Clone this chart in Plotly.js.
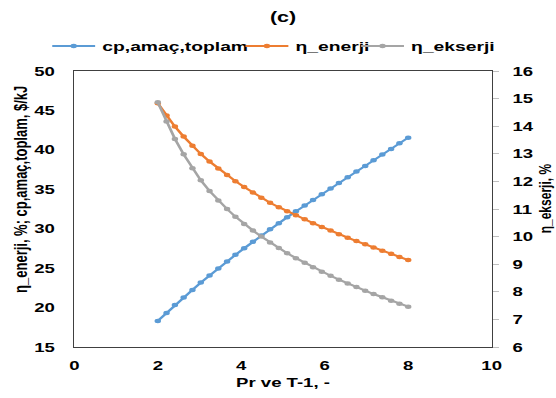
<!DOCTYPE html>
<html>
<head>
<meta charset="utf-8">
<script src="https://cdn.plot.ly/plotly-3.0.1.min.js"></script>
<style>
  html, body { margin: 0; padding: 0; background: #fff; overflow: hidden; }
  #wrap { width: 556px; height: 398px; overflow: hidden; }
  #chart { width: 389px; height: 398px; transform: scaleX(1.4293); transform-origin: 0 0; }
</style>
</head>
<body>
<div id="wrap"><div id="chart"></div></div>
<script>
// Pr ve T-1 (x values)
const xVals = [2.00, 2.21, 2.41, 2.62, 2.83, 3.03, 3.24, 3.45, 3.66, 3.86,
               4.07, 4.28, 4.48, 4.69, 4.90, 5.10, 5.31, 5.52, 5.72, 5.93,
               6.14, 6.34, 6.55, 6.76, 6.97, 7.17, 7.38, 7.59, 7.79, 8.00];
// cp,amaç,toplam ($/kJ) - left axis
const cpAmacToplam = [18.30, 19.32, 20.32, 21.29, 22.24, 23.17, 24.08, 24.97, 25.84, 26.69,
                      27.52, 28.34, 29.14, 29.93, 30.70, 31.46, 32.20, 32.93, 33.65, 34.37,
                      35.09, 35.81, 36.52, 37.24, 37.96, 38.68, 39.40, 40.11, 40.83, 41.55];
// η_enerji (%) - left axis
const etaEnerji = [45.90, 44.35, 42.95, 41.68, 40.53, 39.48, 38.52, 37.64, 36.82, 36.03,
                   35.28, 34.58, 33.92, 33.30, 32.73, 32.20, 31.70, 31.20, 30.70, 30.22,
                   29.76, 29.31, 28.87, 28.44, 28.02, 27.61, 27.21, 26.81, 26.42, 26.03];
// η_ekserji (%) - right axis
const etaEkserji = [14.87, 14.17, 13.54, 12.98, 12.48, 12.04, 11.65, 11.31, 11.00, 10.72,
                    10.46, 10.22, 10.00, 9.79, 9.59, 9.40, 9.22, 9.05, 8.89, 8.73,
                    8.58, 8.44, 8.30, 8.17, 8.04, 7.92, 7.80, 7.68, 7.57, 7.46];

const seriesNames = ['cp,amaç,toplam', 'η_enerji', 'η_ekserji'];
const xTicks = [0, 2, 4, 6, 8, 10];
const yLeftTicks = [15, 20, 25, 30, 35, 40, 45, 50];
const yRightTicks = [6, 7, 8, 9, 10, 11, 12, 13, 14, 15, 16];

const FONT = 'Liberation Sans, Arial, sans-serif';
const boldFont = (size) => ({family: FONT, size: size, color: '#000', weight: 'bold'});

const mk = (name, y, color, yaxis, legend) => ({
  x: xVals, y: y, name: name, type: 'scatter', mode: 'lines+markers',
  yaxis: yaxis, legend: legend,
  line: {color: color, width: 2},
  marker: {color: color, size: 4.5, symbol: 'circle'}
});

const data = [
  mk(seriesNames[0], cpAmacToplam, '#5B9BD5', 'y', 'legend'),
  mk(seriesNames[1], etaEnerji, '#ED7D31', 'y', 'legend2'),
  mk(seriesNames[2], etaEkserji, '#A5A5A5', 'y2', 'legend3')
];

const legendBase = {
  orientation: 'h', yanchor: 'middle', y: 1.09, xanchor: 'left',
  font: boldFont(13.5), bgcolor: 'rgba(0,0,0,0)', itemwidth: 30,
  tracegroupgap: 0
};

const layout = {
  width: 389, height: 398,
  margin: {l: 52, r: 45, t: 71, b: 51},
  paper_bgcolor: '#fff', plot_bgcolor: '#fff',
  font: boldFont(13),
  title: {text: '(c)', font: boldFont(15), x: 0.5, xref: 'paper', xanchor: 'center', y: 1 - 17/398, yref: 'container', yanchor: 'middle'},
  showlegend: true,
  legend: Object.assign({}, legendBase, {x: -0.07}),
  legend2: Object.assign({}, legendBase, {x: 0.393}),
  legend3: Object.assign({}, legendBase, {x: 0.670}),
  xaxis: {
    range: [0, 10], tickvals: xTicks, ticktext: xTicks.map(String),
    showgrid: false, zeroline: false,
    showline: true, mirror: true, linecolor: '#404040', linewidth: 1,
    ticks: '', ticklabelstandoff: 6,
    tickfont: boldFont(13),
    title: {text: 'Pr ve T-1, -', font: boldFont(13), standoff: 6}
  },
  yaxis: {
    range: [15, 50], tickvals: yLeftTicks, ticktext: yLeftTicks.map(String),
    showgrid: false, zeroline: false,
    showline: true, mirror: true, linecolor: '#404040', linewidth: 1,
    ticks: '', ticklabelstandoff: 10,
    tickfont: boldFont(13)
  },
  yaxis2: {
    range: [6, 16], tickvals: yRightTicks, ticktext: yRightTicks.map(String),
    overlaying: 'y', side: 'right',
    showgrid: false, zeroline: false, showline: false,
    ticks: 'outside', ticklen: 4, tickcolor: '#BFBFBF', tickwidth: 1,
    ticklabelstandoff: 7,
    tickfont: boldFont(13)
  },
  annotations: [
    {text: 'η_enerji, %; cp,amaç,toplam, $/kJ', textangle: -90,
     xref: 'paper', yref: 'paper', x: (14 - 52) / 292, y: (347 - 190) / 276,
     xanchor: 'center', yanchor: 'middle', showarrow: false, font: boldFont(13)},
    {text: 'η_ekserji, %', textangle: -90,
     xref: 'paper', yref: 'paper', x: (381.3 - 52) / 292, y: (347 - 198) / 276,
     xanchor: 'center', yanchor: 'middle', showarrow: false, font: boldFont(12)}
  ]
};

Plotly.newPlot('chart', data, layout, {displayModeBar: false, staticPlot: true});
</script>
</body>
</html>
